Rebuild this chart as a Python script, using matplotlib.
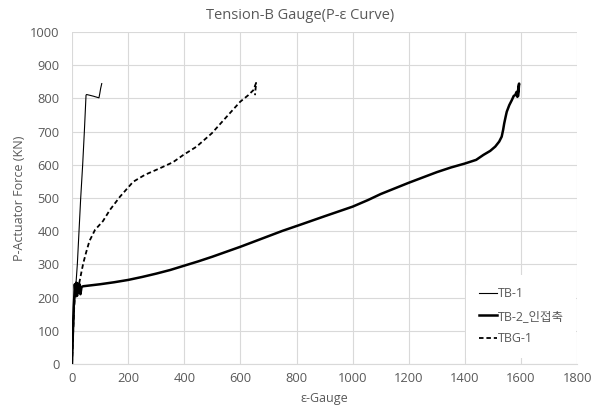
import matplotlib
matplotlib.use("Agg")
import matplotlib.pyplot as plt

plt.rcParams['font.family'] = ['Open Sans', 'Noto Sans CJK KR', 'DejaVu Sans']

title = "Tension-B Gauge(P-ε Curve)"
xlabel = "ε-Gauge"
ylabel = "P-Actuator Force (KN)"
xticks = [0, 200, 400, 600, 800, 1000, 1200, 1400, 1600, 1800]
yticks = [0, 100, 200, 300, 400, 500, 600, 700, 800, 900, 1000]

tb1_x = [0, 3, 7, 10, 14, 19, 25, 31, 38, 44, 50, 52, 62, 76, 88, 96, 99, 102, 106]
tb1_y = [0, 60, 140, 200, 240, 300, 400, 500, 600, 700, 810, 812, 810, 807, 804, 802, 815, 830, 845]

tb2_x = [0, 2, 4, 6, 8, 10, 13, 15, 18, 21, 24, 27, 30, 34, 40, 60, 100, 150, 200, 250, 300,
         350, 400, 450, 500, 550, 600, 650, 700, 750, 812, 900, 1000, 1055, 1100, 1150, 1200,
         1250, 1300, 1350, 1400, 1440, 1466, 1490, 1508, 1522, 1531, 1536, 1540, 1545, 1549,
         1558, 1567, 1574, 1579, 1584, 1587, 1590, 1593, 1591, 1590]
tb2_y = [0, 60, 120, 170, 200, 240, 210, 245, 205, 242, 215, 240, 210, 232, 234, 236, 240, 246,
         253, 262, 272, 283, 296, 309, 323, 338, 353, 369, 385, 401, 419, 445, 474, 494, 512,
         529, 546, 562, 578, 592, 604, 615, 630, 642, 655, 670, 685, 705, 725, 745, 760, 780,
         795, 808, 810, 820, 805, 830, 845, 820, 810]

tbg_x = [0, 3, 6, 9, 14, 20, 25, 32, 40, 50, 62, 82, 110, 135, 171, 218, 260, 314, 360, 397,
         444, 498, 551, 599, 628, 646, 656, 652]
tbg_y = [0, 70, 140, 190, 205, 213, 240, 270, 303, 335, 370, 404, 430, 464, 504, 549, 570, 590,
         608, 630, 655, 695, 745, 790, 810, 825, 847, 810]

fig = plt.figure(figsize=(6.0, 4.07), dpi=100)
ax = fig.add_axes([0.12, 0.106, 0.842, 0.815])

ax.plot(tb1_x, tb1_y, color='black', lw=0.8, label='TB-1', zorder=3)
ax.plot(tb2_x, tb2_y, color='black', lw=1.8, label='TB-2_인접축', zorder=4)
ax.plot(tbg_x, tbg_y, color='black', lw=1.3, ls=(0, (2.5, 1.6)), label='TBG-1', zorder=3)

ax.set_xlim(0, 1800)
ax.set_ylim(0, 1000)
ax.set_xticks(xticks)
ax.set_yticks(yticks)
ax.grid(True, color='#d9d9d9', lw=0.8)
ax.set_axisbelow(True)
for s in ['top', 'right', 'left']:
    ax.spines[s].set_visible(False)
ax.spines['bottom'].set_color('#d9d9d9')
ax.tick_params(length=0, labelsize=9.3, colors='#595959')
ax.tick_params(axis='y', pad=9)
ax.tick_params(axis='x', pad=6)

fig.text(0.5, 0.963, title, ha='center', va='center', fontsize=10.5, color='#595959')
ax.set_xlabel(xlabel, fontsize=9, color='#595959', labelpad=5)
ax.set_ylabel(ylabel, fontsize=9, color='#595959', labelpad=3)

leg = ax.legend(loc='upper left', bbox_to_anchor=(0.78, 0.268), borderaxespad=0,
                frameon=True, fontsize=9, handlelength=1.5, handletextpad=0.05,
                labelspacing=0.75, borderpad=1.0, labelcolor='#595959')
leg.get_frame().set_edgecolor('none')
leg.get_frame().set_facecolor('white')
leg.get_frame().set_alpha(1.0)
leg.get_frame().set_boxstyle('square', pad=0)

fig.savefig('out.png', dpi=100)
